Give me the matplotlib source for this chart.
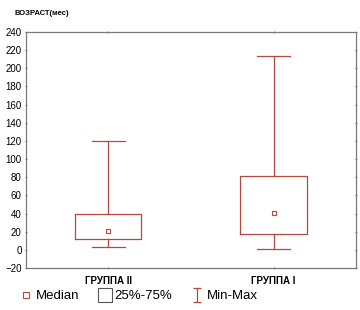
import matplotlib
matplotlib.use("Agg")
import matplotlib.pyplot as plt
from matplotlib.lines import Line2D
from matplotlib.path import Path

plt.rcParams['font.family'] = ['Liberation Sans', 'DejaVu Sans']

# Data (months)
groups = ["ГРУППА II", "ГРУППА I"]
mins = [3, 1]
q1 = [12, 18]
medians = [21, 41]
q3 = [40, 81]
maxs = [120, 214]

color = "#b5483e"
spine_col = "#7a7a7a"

fig = plt.figure(figsize=(3.6, 3.1), dpi=100)
ax = fig.add_axes([0.072, 0.135, 0.917, 0.762])

stats = []
for i in range(len(groups)):
    stats.append({"label": groups[i], "whislo": mins[i], "q1": q1[i],
                  "med": medians[i], "q3": q3[i], "whishi": maxs[i]})

ax.bxp(stats, positions=range(len(groups)), widths=0.4, capwidths=0.2,
       showfliers=False,
       boxprops=dict(color=color, linewidth=0.9),
       whiskerprops=dict(color=color, linewidth=0.9),
       capprops=dict(color=color, linewidth=0.9),
       medianprops=dict(linewidth=0))
ax.plot(range(len(groups)), medians, linestyle="none", marker="s",
        markersize=3.5, markerfacecolor="white", markeredgecolor=color,
        markeredgewidth=0.8)

ax.set_xlim(-0.5, 1.5)
ax.set_ylim(-20, 240)
ax.set_yticks(range(-20, 241, 20))
ax.set_xticks(range(len(groups)))
ax.set_xticklabels(groups, fontsize=7, fontweight="bold")
ax.tick_params(axis="y", labelsize=7, length=2, color=spine_col, pad=2,
               right=True, direction="inout")
ax.tick_params(axis="x", length=2, color=spine_col, pad=5, top=True,
               direction="inout")
for s in ax.spines.values():
    s.set_color(spine_col)
    s.set_linewidth(0.9)

fig.text(0.04, 0.955, "ВОЗРАСТ(мес)", fontsize=5.5, fontweight="bold",
         va="center", ha="left")

# I-beam marker for the min-max legend entry
ibeam = Path([(-0.6, 1), (0.6, 1), (0, 1), (0, -1), (-0.6, -1), (0.6, -1)],
             [Path.MOVETO, Path.LINETO, Path.MOVETO, Path.LINETO,
              Path.MOVETO, Path.LINETO])

handles = [
    Line2D([], [], linestyle="none", marker="s", markersize=4,
           markerfacecolor="white", markeredgecolor=color, markeredgewidth=0.8),
    Line2D([], [], linestyle="none", marker="s", markersize=9.5,
           markerfacecolor="white", markeredgecolor="#555555", markeredgewidth=0.8),
    Line2D([], [], linestyle="none", marker=ibeam, markersize=10,
           markerfacecolor="none", markeredgecolor=color, markeredgewidth=0.9),
]
fig.legend(handles, ["Median", "25%-75%", "Min-Max"], loc="center left",
           bbox_to_anchor=(0.025, 0.045), ncol=3, frameon=False, fontsize=9.5,
           handlelength=0.8, handletextpad=0.3, columnspacing=1.55)

fig.savefig("out.png", dpi=100)
